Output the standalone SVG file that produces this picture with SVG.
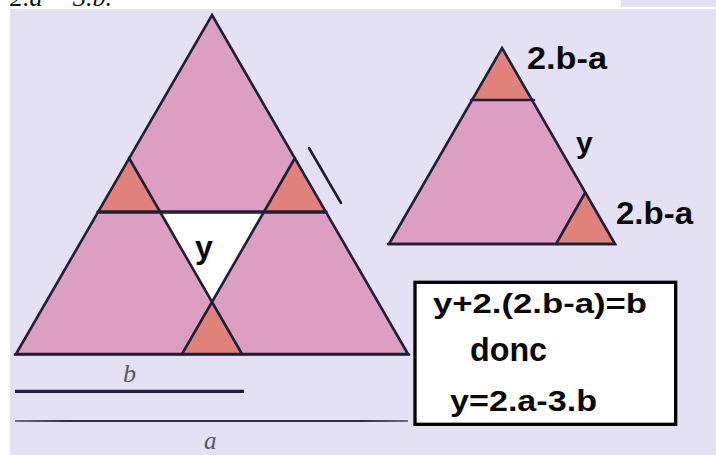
<svg xmlns="http://www.w3.org/2000/svg" width="716" height="455" viewBox="0 0 716 455">
<style>
.pink{fill:#dd9fc1}
.salmon{fill:#e0817a}
.hole{fill:#ffffff}
.ln{stroke:#1e1f3a;stroke-width:2.6;fill:none;stroke-linejoin:miter;stroke-linecap:round}
.thick{stroke-width:3.6}
.lbl{font-family:"Liberation Sans",Arial,sans-serif;font-weight:bold;fill:#0a0a0a}
.it{font-family:"Liberation Serif","Times New Roman",serif;font-style:italic}
</style>
<defs>
<linearGradient id="aline" gradientUnits="userSpaceOnUse" x1="15" y1="0" x2="408" y2="0">
<stop offset="0" stop-color="#6a7080"/>
<stop offset="0.14" stop-color="#2c3142"/>
<stop offset="0.88" stop-color="#2c3142"/>
<stop offset="1" stop-color="#6a7080"/>
</linearGradient>
</defs>
<rect width="716" height="455" fill="#ffffff"/>
<rect x="10" y="9" width="706" height="446" fill="#e4e1f4"/>
<rect x="621" y="0" width="95" height="7" fill="#e4e1f4"/>
<text class="it" x="10" y="6" font-size="26" fill="#111">2.a − 3.b.</text>

<g id="big-triangle">
<polygon class="pink" points="212,15 408,354 16,354"/>
<polygon class="salmon" points="98,212 160,212 129,158"/>
<polygon class="salmon" points="264,212 326,212 295,158"/>
<polygon class="salmon" points="182,354 242,354 212,302"/>
<polygon class="hole" points="160,212 264,212 212,302"/>
<polygon class="ln" points="212,15 408,354 16,354"/>
<line class="ln" x1="129" y1="158" x2="242" y2="354"/>
<line class="ln" x1="295" y1="158" x2="182" y2="354"/>
<line class="ln thick" x1="98" y1="212" x2="326" y2="212"/>
<line class="ln" x1="15" y1="354.5" x2="409" y2="354.5" stroke-width="3.4"/>
<text class="lbl" x="195" y="258" font-size="32">y</text>
</g>

<g id="side-mark">
<line class="ln" x1="309" y1="148" x2="341" y2="203"/>
</g>

<g id="small-triangle">
<polygon class="pink" points="502,48 615,244 389,244"/>
<polygon class="salmon" points="502,48 532,100 472,100"/>
<polygon class="salmon" points="585,193 615,244 556,244"/>
<polygon class="ln" points="502,48 615,244 389,244"/>
<line class="ln" x1="471" y1="100" x2="534" y2="100" stroke-width="3.2"/>
<line class="ln" x1="585" y1="193" x2="556" y2="244"/>
<line class="ln" x1="388" y1="244" x2="615" y2="244" stroke-width="3.2"/>
<text class="lbl" x="527" y="69" font-size="32" textLength="80" lengthAdjust="spacingAndGlyphs">2.b-a</text>
<text class="lbl" x="576" y="153" font-size="30">y</text>
<text class="lbl" x="616" y="224" font-size="32" textLength="77" lengthAdjust="spacingAndGlyphs">2.b-a</text>
</g>

<g id="lengths">
<text class="it" x="123" y="382" font-size="26" fill="#4d566c">b</text>
<line x1="15" y1="391.3" x2="244" y2="391.3" stroke="#1e1f3a" stroke-width="3.3"/>
<line x1="15" y1="421" x2="408" y2="421" stroke="url(#aline)" stroke-width="2"/>
<text class="it" x="204" y="449" font-size="25" fill="#4d566c">a</text>
</g>

<g id="equation-box">
<rect x="415" y="282.3" width="260.7" height="142" fill="#ffffff" stroke="#000" stroke-width="3.3"/>
<text class="lbl" x="433" y="313" font-size="28" textLength="214" lengthAdjust="spacingAndGlyphs">y+2.(2.b-a)=b</text>
<text class="lbl" x="470" y="361" font-size="34" textLength="77" lengthAdjust="spacingAndGlyphs">donc</text>
<text class="lbl" x="450" y="411" font-size="29" textLength="147" lengthAdjust="spacingAndGlyphs">y=2.a-3.b</text>
</g>
</svg>
